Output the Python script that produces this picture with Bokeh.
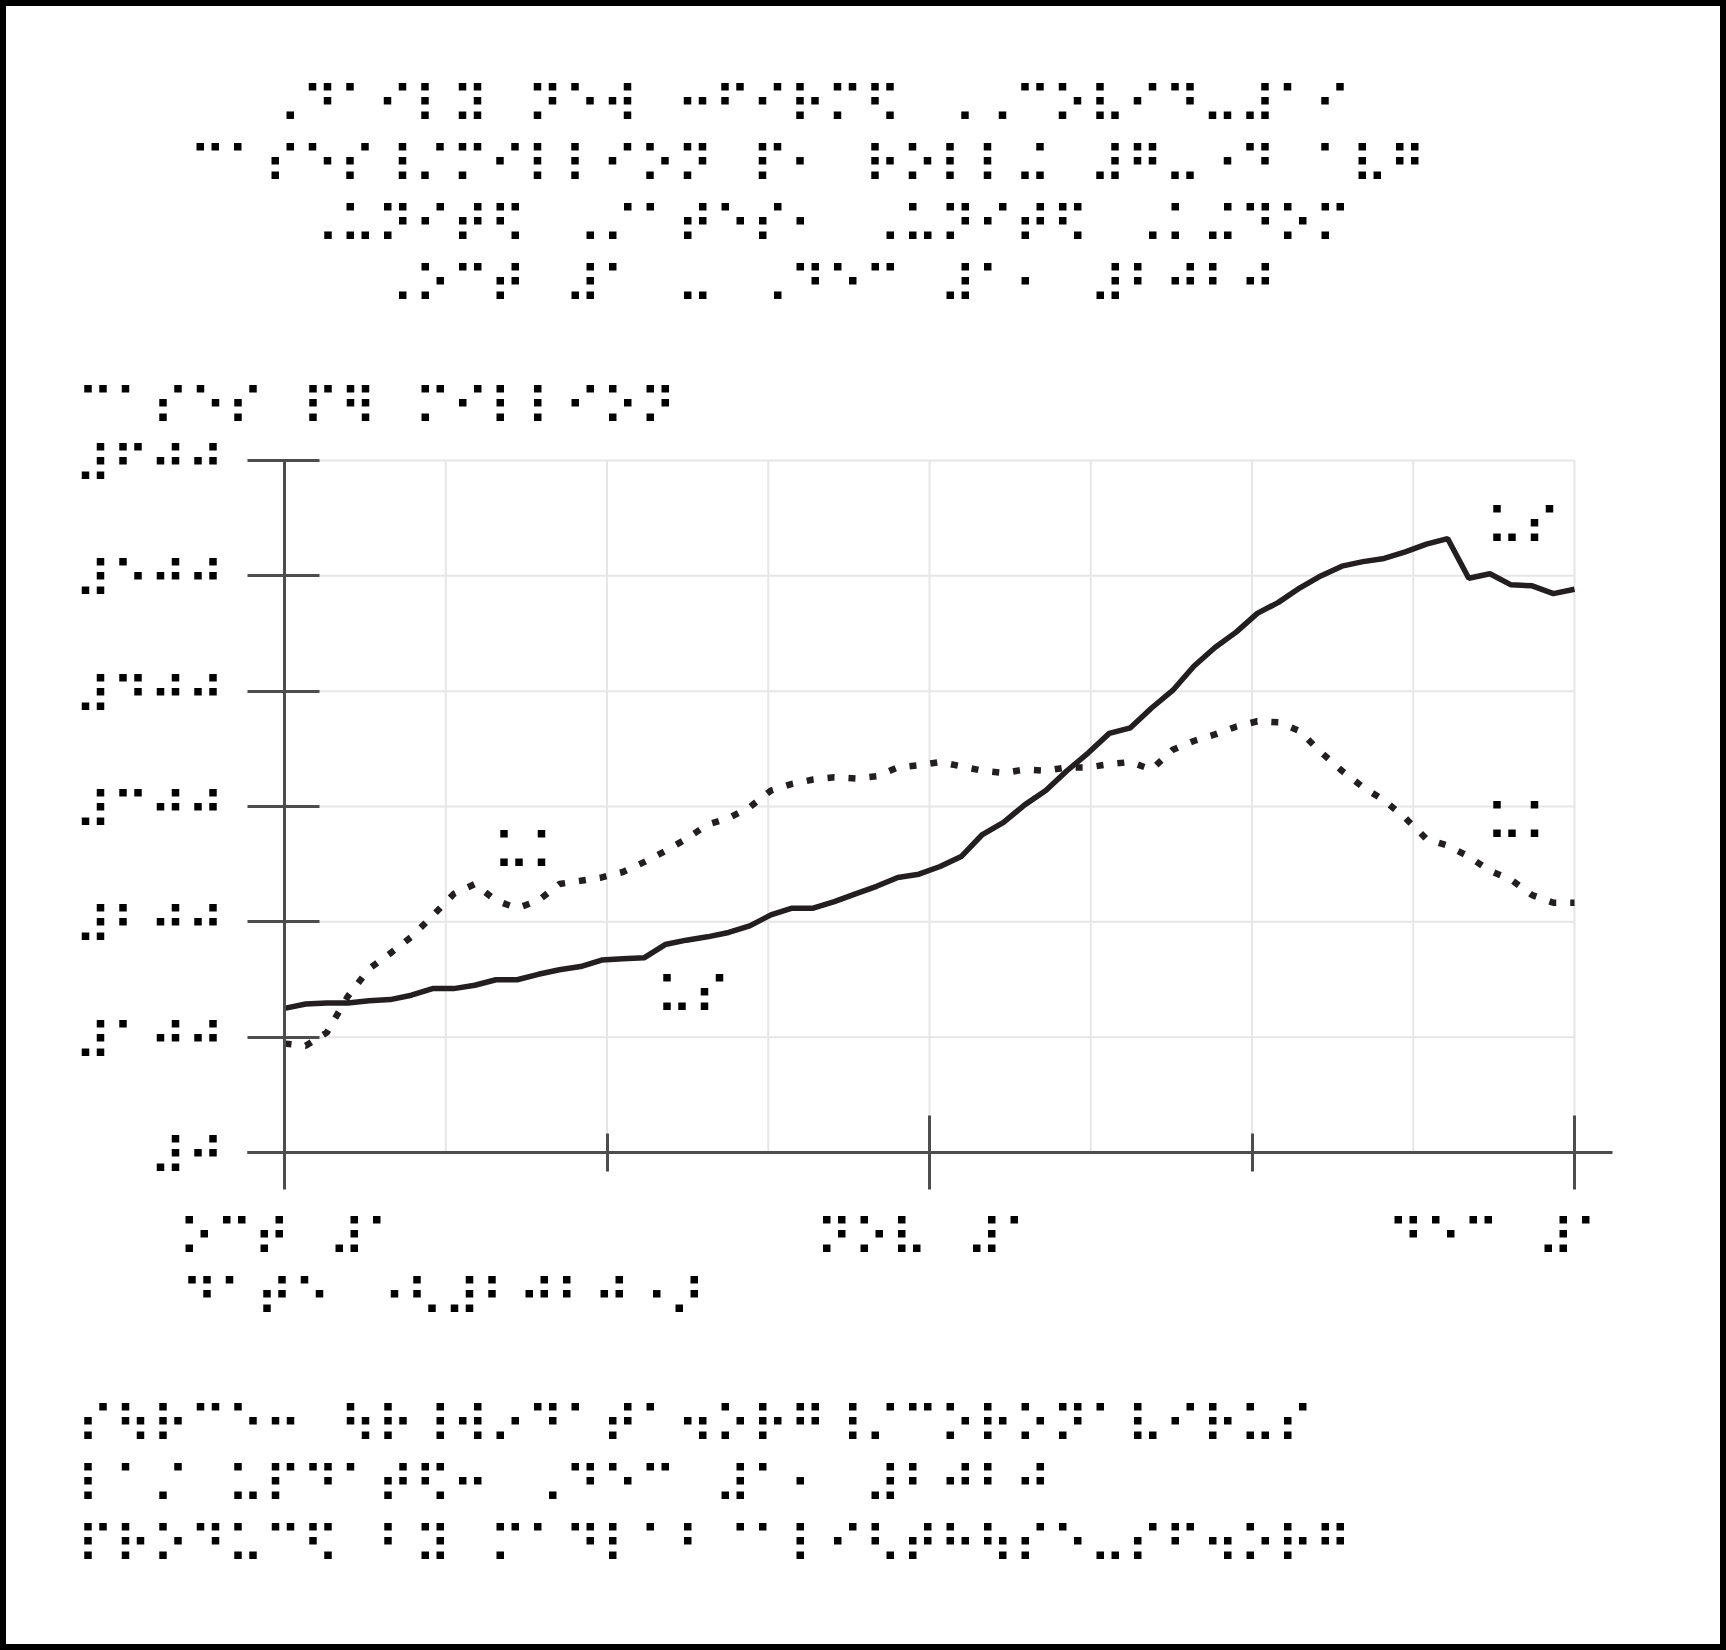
from bokeh.plotting import figure
from bokeh.models import FixedTicker, LinearAxis, Label, LabelSet, Range1d, ColumnDataSource
from bokeh.core.properties import value
from bokeh.embed import file_html
from bokeh.resources import INLINE

# ---------------- data ----------------
days = list(range(62))  # Oct 1 .. Dec 1, 2020
us_cases = [125.0, 128.8, 129.7, 129.7, 131.6, 132.6, 136.4, 142.1, 142.1, 145.0,
            149.8, 149.8, 154.5, 158.4, 161.2, 166.9, 167.9, 168.8, 180.3, 184.1,
            187.0, 190.8, 196.5, 206.0, 211.8, 211.8, 217.5, 224.2, 230.8, 238.5,
            241.3, 248.0, 256.6, 275.7, 286.2, 301.4, 313.8, 331.0, 346.3, 363.4,
            368.2, 385.4, 400.6, 421.6, 437.9, 451.2, 467.4, 477.0, 489.4, 499.9,
            508.4, 512.3, 515.1, 520.8, 527.5, 532.3, 497.9, 501.8, 492.2, 491.3,
            484.6, 488.4]
uk_cases = [94.4, 92.5, 104.0, 135.5, 159.3, 172.7, 187.0, 205.1, 224.2, 232.8,
            218.4, 211.8, 218.4, 232.8, 235.6, 238.5, 243.2, 251.8, 261.4, 271.9,
            284.3, 290.0, 299.5, 313.8, 319.6, 323.4, 325.3, 324.3, 326.2, 333.9,
            335.8, 338.6, 334.8, 331.0, 329.1, 332.0, 331.0, 333.9, 333.9, 336.7,
            338.6, 332.0, 349.1, 356.8, 362.5, 369.2, 373.9, 373.0, 365.4, 347.2,
            331.0, 316.7, 305.3, 290.0, 271.9, 266.1, 256.6, 244.2, 236.6, 223.2,
            216.5, 216.5]
series_names = ["⠥⠎", "⠥⠅"]  # us, uk

y_ticks = [0, 100, 200, 300, 400, 500, 600]
y_tick_labels = ["⠼⠚", "⠼⠁⠚⠚", "⠼⠃⠚⠚", "⠼⠉⠚⠚", "⠼⠙⠚⠚", "⠼⠑⠚⠚", "⠼⠋⠚⠚"]
x_ticks = [0, 30.5, 61]
x_minor_ticks = [15.25, 45.75]
x_tick_labels = ["⠕⠉⠞ ⠼⠁", "⠝⠕⠧ ⠼⠁", "⠙⠑⠉ ⠼⠁"]
x_grid = [0, 7.625, 15.25, 22.875, 30.5, 38.125, 45.75, 53.375, 61]

title_lines = ["⠠⠙⠁⠊⠇⠽ ⠝⠑⠺ ⠒⠋⠊⠗⠍⠫ ⠠⠠⠉⠕⠧⠊⠙⠤⠼⠁⠊",
               "⠉⠁⠎⠑⠎⠸⠌⠍⠊⠇⠇⠊⠕⠝ ⠏⠂ ⠗⠕⠇⠇⠬ ⠼⠛⠤⠐⠙ ⠁⠧⠛",
               "⠠⠥⠝⠊⠞⠫ ⠠⠌⠁⠞⠑⠎⠂ ⠠⠥⠝⠊⠞⠫ ⠠⠅⠬⠙⠕⠍",
               "⠠⠕⠉⠞ ⠼⠁ ⠤ ⠠⠙⠑⠉ ⠼⠁⠂ ⠼⠃⠚⠃⠚"]
y_title = "⠉⠁⠎⠑⠎ ⠏⠻ ⠍⠊⠇⠇⠊⠕⠝"
x_title = "⠙⠁⠞⠑ ⠐⠣⠼⠃⠚⠃⠚⠐⠜"
footer_lines = ["⠎⠳⠗⠉⠑⠒ ⠳⠗⠸⠺⠔⠙⠁⠞⠁⠲⠕⠗⠛⠸⠌⠉⠕⠗⠕⠝⠁⠧⠊⠗⠥⠎",
                "⠇⠁⠌ ⠥⠏⠙⠁⠞⠫⠒ ⠠⠙⠑⠉ ⠼⠁⠂ ⠼⠃⠚⠃⠚",
                "⠏⠗⠕⠙⠥⠉⠫ ⠃⠽ ⠍⠁⠙⠇⠁⠃⠈⠁⠇⠊⠣⠞⠓⠳⠎⠑⠤⠎⠋⠲⠕⠗⠛"]


def cells(s):
    # a word gap in braille is one blank cell (U+2800), as wide as any other cell
    return s.replace(" ", "\u2800")


# ---------------- style ----------------
FONT = "DejaVu Sans"
FS = "51.2px"
DXL = 9.8         # text box edge -> outer dot column
SHIFT = 4.4       # dots sit this much above the 'middle' anchor
AX = "#4d4d4d"
INK = "#231f20"
GRID = "#e6e6e6"

W, H = 1726, 1650
FL, FR, FT, FB = 284, 1574, 460, 1152     # plot area on the page
KX = (FR - FL) / 61
KY = (FB - FT) / 600

p = figure(width=W, height=H, output_backend="svg", toolbar_location=None,
           x_range=Range1d(-FL / KX, (W - FL) / KX),
           y_range=Range1d(-(H - FB) / KY, FB / KY),
           min_border=0)
p.xgrid.visible = False
p.ygrid.visible = False
p.background_fill_color = "white"
p.border_fill_color = "white"
p.outline_line_color = "black"
p.outline_line_width = 11

# grid lines (limited to the plot area)
p.segment(x0=x_grid, y0=[y_ticks[0]] * len(x_grid), x1=x_grid, y1=[y_ticks[-1]] * len(x_grid),
          line_color=GRID, line_width=2)
p.segment(x0=[x_ticks[0]] * len(y_ticks), y0=y_ticks, x1=[x_ticks[-1]] * len(y_ticks), y1=y_ticks,
          line_color=GRID, line_width=2)

# y axis: line 0..600 with crossing ticks
ya = p.yaxis[0]
ya.fixed_location = 0
ya.bounds = (0, 600)
ya.ticker = FixedTicker(ticks=[], minor_ticks=y_ticks)
ya.minor_tick_in = 35
ya.minor_tick_out = 37
ya.minor_tick_line_width = 3
ya.minor_tick_line_color = AX
ya.axis_line_width = 3
ya.axis_line_color = AX

# x axis: line extends past both ends, short ticks mid-month
xa = p.xaxis[0]
xa.fixed_location = 0
xa.bounds = (-37 / KX, 61 + 38 / KX)
xa.ticker = FixedTicker(ticks=[], minor_ticks=x_minor_ticks)
xa.minor_tick_in = 19
xa.minor_tick_out = 19
xa.minor_tick_line_width = 3
xa.minor_tick_line_color = AX
xa.axis_line_width = 3
xa.axis_line_color = AX

# long month ticks
xb = LinearAxis(fixed_location=0, bounds=(0, 61),
                ticker=FixedTicker(ticks=[], minor_ticks=x_ticks),
                minor_tick_in=37, minor_tick_out=37, minor_tick_line_width=3,
                minor_tick_line_color=AX, axis_line_color=None)
p.add_layout(xb, "below")

# series
p.line(days, us_cases, line_color=INK, line_width=5.5)
p.line(days, uk_cases, line_color=INK, line_width=6.5, line_dash="7 14")

# y tick labels
ysrc = ColumnDataSource(dict(x=[0] * len(y_ticks), y=y_ticks,
                             text=[cells(t) for t in y_tick_labels]))
p.add_layout(LabelSet(x="x", y="y", text="text", source=ysrc,
                      x_offset=(214 + DXL) - FL, y_offset=-SHIFT,
                      text_font=value(FONT), text_font_size=value(FS), text_color="black",
                      text_align="right", text_baseline="middle"))


def put(text, px, py, align="left"):
    """px: page x of first dot column (left), last dot column (right) or centre."""
    if align == "left":
        ax = px - DXL
    elif align == "right":
        ax = px + DXL
    else:
        ax = px
    p.add_layout(Label(x=0, y=0, x_offset=ax - FL, y_offset=FB - (py + SHIFT),
                       text=cells(text), text_font=FONT, text_font_size=FS,
                       text_color="black", text_align=align, text_baseline="middle"))


# title
title_centres = [807, 807, 826, 826]
for i, (line, cx) in enumerate(zip(title_lines, title_centres)):
    put(line, cx, 100 + 60 * i, align="center")

put(y_title, 86, 402)

# x tick labels and x title
put(x_tick_labels[0], 290, 1233, align="center")
put(x_tick_labels[1], 927.5, 1233, align="center")
put(x_tick_labels[2], 1499, 1233, align="center")
put(x_title, 190, 1293)

# series labels
put(series_names[0], 665, 991)
put(series_names[1], 502, 847)
put(series_names[0], 1495, 522)
put(series_names[1], 1495, 818)

for i, line in enumerate(footer_lines):
    put(line, 86, 1420 + 60 * i)

open("out.html", "w").write(file_html(p, INLINE))
